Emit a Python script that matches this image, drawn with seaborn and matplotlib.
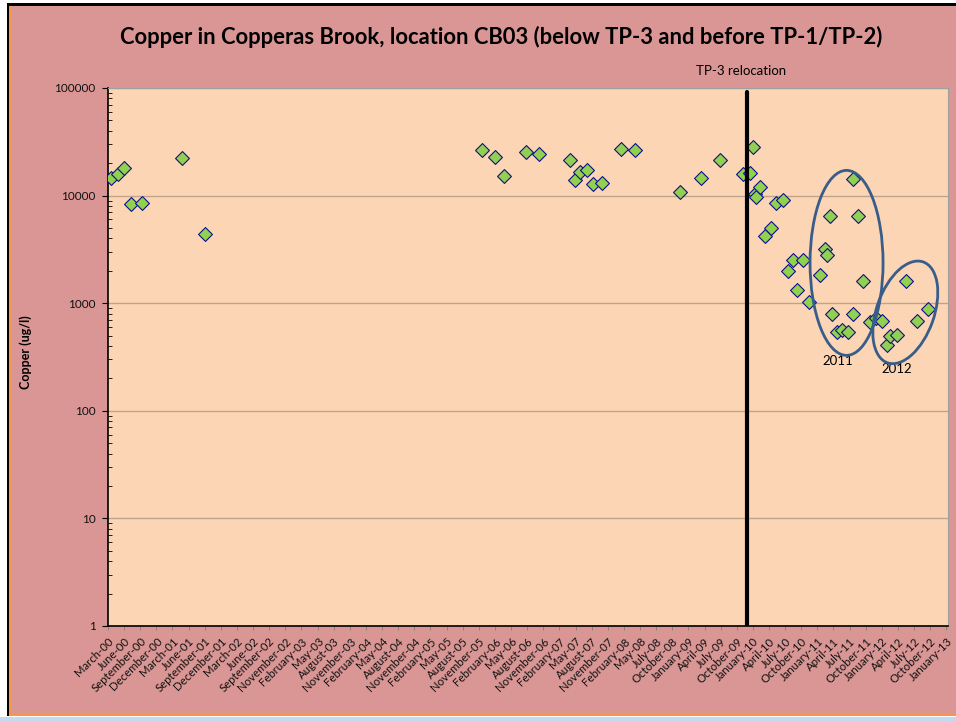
import matplotlib

matplotlib.use("Agg")

import matplotlib.dates as mdates
import matplotlib.pyplot as plt
import numpy as np
import pandas as pd
import seaborn as sns
from matplotlib.patches import Ellipse, Rectangle
from matplotlib.ticker import LogLocator, NullFormatter
from matplotlib.transforms import ScaledTranslation, blended_transform_factory

# sampling dates and copper concentrations (ug/l) at CB03
sample_dates = [
    "2000-03-31", "2000-05-07", "2000-06-13", "2000-07-19", "2000-09-20",
    "2001-05-01", "2001-09-05",
    "2005-12-02", "2006-02-10", "2006-04-01", "2006-08-03", "2006-10-15",
    "2007-04-06", "2007-05-06", "2007-06-01", "2007-07-12", "2007-08-11", "2007-09-30",
    "2008-01-14", "2008-04-01", "2008-12-10",
    "2009-04-05", "2009-07-22", "2009-11-29",
    "2010-01-05", "2010-01-24", "2010-02-02", "2010-02-08", "2010-03-02",
    "2010-04-01", "2010-05-01", "2010-05-30", "2010-07-07", "2010-08-07",
    "2010-09-02", "2010-09-26", "2010-10-26", "2010-11-29",
    "2011-01-31", "2011-02-28", "2011-03-09", "2011-03-28", "2011-04-06",
    "2011-05-04", "2011-06-01", "2011-07-06", "2011-08-05", "2011-08-05",
    "2011-09-02", "2011-09-26", "2011-11-06", "2011-12-07",
    "2012-01-10", "2012-02-07", "2012-02-26", "2012-04-03", "2012-05-25",
    "2012-07-24", "2012-09-23",
]
copper_ugl = [
    14600, 15900, 18000, 8270, 8570,
    22500, 4430,
    26600, 22700, 15300, 25600, 24300,
    21500, 14000, 16500, 17300, 12800, 13100,
    27200, 26600, 10800,
    14500, 21200, 15800,
    16200, 28000, 10400, 9750, 12100,
    4180, 5000, 8500, 9100, 2000,
    2540, 1320, 2540, 1020,
    1820, 3180, 2820, 6520, 800,
    535, 563, 545, 14200, 790,
    6430, 1610, 675, 735,
    680, 405, 495, 508, 1620,
    680, 890,
]

x_tick_labels = [
    "March-00", "June-00", "September-00", "December-00", "March-01", "June-01",
    "September-01", "December-01", "March-02", "June-02", "September-02", "November-02",
    "February-03", "May-03", "August-03", "November-03", "February-04", "May-04",
    "August-04", "November-04", "February-05", "May-05", "August-05", "November-05",
    "February-06", "May-06", "August-06", "November-06", "February-07", "May-07",
    "August-07", "November-07", "February-08", "May-08", "July-08", "October-08",
    "January-09", "April-09", "July-09", "October-09", "January-10", "April-10",
    "July-10", "October-10", "January-11", "April-11", "July-11", "October-11",
    "January-12", "April-12", "July-12", "October-12", "January-13",
]
y_tick_values = [1, 10, 100, 1000, 10000, 100000]
y_tick_labels = ["1", "10", "100", "1000", "10000", "100000"]

relocation_date = "2009-12-22"
cluster_names = ["2011", "2012"]

PINK = "#D99694"
PEACH = "#FCD5B4"
W, H = 956, 721

sns.set_theme(style="white")
plt.rcParams["font.family"] = ["Lato", "DejaVu Sans"]
plt.rcParams["text.color"] = "black"
plt.rcParams["axes.labelcolor"] = "black"
plt.rcParams["xtick.labelcolor"] = "#111111"
plt.rcParams["ytick.labelcolor"] = "#111111"

fig = plt.figure(figsize=(W / 100, H / 100), dpi=100, facecolor="white")


def frame_box(x0, y0, x1, y1, color):
    # box given in pixels, top-left origin
    fig.add_artist(Rectangle((x0 / W, 1 - y1 / H), (x1 - x0) / W, (y1 - y0) / H,
                             transform=fig.transFigure, facecolor=color,
                             edgecolor="none", zorder=-5))


frame_box(7, 3, W, 716, "black")
frame_box(9, 6, W, 716, "#F79646")
frame_box(11, 6, W, 714, PINK)
frame_box(0, 716.5, W, H, "#C6D9F1")

ax = fig.add_axes([108 / W, 1 - 626 / H, 840.3 / W, 538 / H])
ax.set_facecolor(PEACH)

df = pd.DataFrame({"date": pd.to_datetime(sample_dates), "copper": copper_ugl})
sns.scatterplot(data=df, x="date", y="copper", marker="D", s=50, color="#92D050",
                edgecolor="#10108A", linewidth=0.8, ax=ax, zorder=3)

ax.set_yscale("log")
ax.set_ylim(y_tick_values[0], y_tick_values[-1])
ax.set_xlim(pd.Timestamp("2000-03-14"), pd.Timestamp("2013-01-16"))

tick_dates = pd.date_range("2000-03-14", periods=len(x_tick_labels), freq="90D")
ax.set_xticks(tick_dates)
ax.set_xticklabels(x_tick_labels, rotation=45, ha="right", rotation_mode="anchor", fontsize=8.2)
ax.set_yticks(y_tick_values)
ax.set_yticklabels(y_tick_labels, fontsize=8.5)
ax.yaxis.set_minor_locator(LogLocator(base=10, subs=np.arange(2, 10)))
ax.yaxis.set_minor_formatter(NullFormatter())

ax.tick_params(which="both", left=True, bottom=True)
ax.tick_params(axis="y", which="major", direction="out", length=4, width=0.8, color="black", pad=5)
ax.tick_params(axis="y", which="minor", direction="in", length=3, width=0.6, color="black")
ax.tick_params(axis="x", which="major", direction="out", length=3, width=0.6, color="#808080", pad=4)

ax.grid(False)
ax.yaxis.grid(True, which="major", color="#BFA48C", lw=1)
ax.set_axisbelow(True)
for side in ["left", "bottom"]:
    ax.spines[side].set_color("black")
    ax.spines[side].set_linewidth(1.2)
for side in ["top", "right"]:
    ax.spines[side].set_color("#A0A0A0")
    ax.spines[side].set_linewidth(0.8)

ax.set_xlabel("")
ax.set_ylabel("Copper (ug/l)", fontsize=9, fontweight="bold")
ax.yaxis.set_label_coords(-0.0904, 0.509)

ax.axvline(pd.Timestamp(relocation_date), ymax=0.993, color="black", lw=3, zorder=4)
trans = blended_transform_factory(ax.transData, ax.transAxes)
ax.text(mdates.date2num(pd.Timestamp("2009-11-16")), 1.032, "TP-3 relocation",
        transform=trans, ha="center", va="center", fontsize=9.5)

fig.text(501 / W, 1 - 37 / H,
         "Copper in Copperas Brook, location CB03 (below TP-3 and before TP-1/TP-2)",
         ha="center", va="center", fontsize=15.8, fontweight="bold")

# circled groups for 2011 and 2012
circles = [
    ("2011-06-28", 2370, 0.73, 1.85, 0),
    ("2012-05-21", 822, 0.575, 1.07, -19.6),
]
name_pos = [("2011-05-09", 293), ("2012-04-03", 247)]
for (cd, cv, w, h, ang), name, (td, tv) in zip(circles, cluster_names, name_pos):
    off = ScaledTranslation(mdates.date2num(pd.Timestamp(cd)), cv, ax.transData)
    fig.add_artist(Ellipse((0, 0), w, h, angle=ang, transform=fig.dpi_scale_trans + off,
                           fill=False, edgecolor="#385D8A", lw=2, zorder=5))
    ax.text(mdates.date2num(pd.Timestamp(td)), tv, name, ha="center", va="center", fontsize=9.5)

fig.savefig("out.png", dpi=100, facecolor=fig.get_facecolor())
